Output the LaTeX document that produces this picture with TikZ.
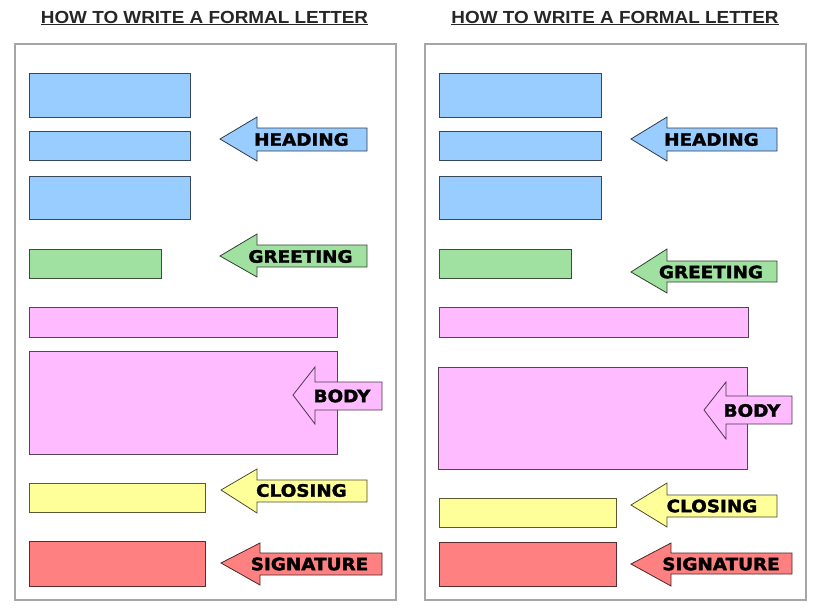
\documentclass[tikz,border=0pt]{standalone}
\usepackage{fontspec}
\newfontfamily\titlefont[FakeStretch=1.08]{Liberation Sans Bold}
\newfontfamily\lblfont[FakeStretch=1.08,FakeBold=2]{DejaVu Sans Bold}
\definecolor{headblue}{HTML}{99CCFF}
\definecolor{greetgreen}{HTML}{A0E0A0}
\definecolor{bodypink}{HTML}{FFBBFF}
\definecolor{closeyellow}{HTML}{FFFF99}
\definecolor{signred}{HTML}{FF8080}
\begin{document}
\begin{tikzpicture}[x=1pt,y=-1pt,
    part/.style={draw=#1!35!black, fill=#1, line width=0.8pt},
    pointer/.style={draw=#1!30!black, fill=#1, line width=0.8pt, line join=miter},
    lbl/.style={font=\lblfont\fontsize{17}{20}\selectfont, text=black, inner sep=0pt},
    title/.style={font=\titlefont\fontsize{17.5}{20}\selectfont, text=black!85, inner sep=0pt},
    sheet/.style={draw=gray!70, line width=1.2pt}]
    \useasboundingbox (0,0) rectangle (821,615);

    % left letter
    \node[title] (titleL) at (204.5,18) {\underline{HOW TO WRITE A FORMAL LETTER}};
    \draw[sheet] (15,44) rectangle (396,600);
    \draw[part=headblue] (29,73) rectangle (190,117);
    \draw[part=headblue] (29,131) rectangle (190,160);
    \draw[part=headblue] (29,176) rectangle (190,219);
    \draw[part=greetgreen] (29,249) rectangle (161,278);
    \draw[part=bodypink] (29,307) rectangle (337,337);
    \draw[part=bodypink] (29,351) rectangle (337,454);
    \draw[part=closeyellow] (29,483) rectangle (205,512);
    \draw[part=signred] (29,541) rectangle (205,586);

    \draw[pointer=headblue] (220,139) -- (257,117) -- (257,128) -- (367,128) -- (367,151) -- (257,151) -- (257,161) -- cycle;
    \node[lbl] (headL) at (301.5,139.5) {HEADING};
    \draw[pointer=greetgreen] (220,256) -- (257,234) -- (257,245) -- (367,245) -- (367,267) -- (257,267) -- (257,277) -- cycle;
    \node[lbl] (greetL) at (300.5,256.5) {GREETING};
    \draw[pointer=bodypink] (293,395) -- (315,367) -- (315,382) -- (382,382) -- (382,410) -- (315,410) -- (315,424) -- cycle;
    \node[lbl] (bodyL) at (342,396) {BODY};
    \draw[pointer=closeyellow] (221,490) -- (257,469) -- (257,480) -- (367,480) -- (367,502) -- (257,502) -- (257,513) -- cycle;
    \node[lbl] (closeL) at (301.5,490.5) {CLOSING};
    \draw[pointer=signred] (221,563) -- (260,543) -- (260,553) -- (382,553) -- (382,575) -- (260,575) -- (260,585) -- cycle;
    \node[lbl] (signL) at (309.5,564) {SIGNATURE};

    % right letter
    \node[title] (titleR) at (615,18) {\underline{HOW TO WRITE A FORMAL LETTER}};
    \draw[sheet] (425,44) rectangle (806,600);
    \draw[part=headblue] (439,73) rectangle (601,117);
    \draw[part=headblue] (439,131) rectangle (601,160);
    \draw[part=headblue] (439,176) rectangle (601,219);
    \draw[part=greetgreen] (439,249) rectangle (571,278);
    \draw[part=bodypink] (439,307) rectangle (748,337);
    \draw[part=bodypink] (438,367) rectangle (747,469);
    \draw[part=closeyellow] (439,498) rectangle (616,527);
    \draw[part=signred] (439,542) rectangle (616,586);

    \draw[pointer=headblue] (631,139) -- (667,117) -- (667,128) -- (777,128) -- (777,151) -- (667,151) -- (667,161) -- cycle;
    \node[lbl] (headR) at (711.5,139.5) {HEADING};
    \draw[pointer=greetgreen] (631,272) -- (667,249) -- (667,261) -- (777,261) -- (777,282) -- (667,282) -- (667,293) -- cycle;
    \node[lbl] (greetR) at (711,272) {GREETING};
    \draw[pointer=bodypink] (704,410) -- (726,382) -- (726,396) -- (792,396) -- (792,424) -- (726,424) -- (726,439) -- cycle;
    \node[lbl] (bodyR) at (752,410.5) {BODY};
    \draw[pointer=closeyellow] (631,505) -- (667,483) -- (667,495) -- (777,495) -- (777,517) -- (667,517) -- (667,527) -- cycle;
    \node[lbl] (closeR) at (712,506) {CLOSING};
    \draw[pointer=signred] (631,564) -- (671,543) -- (671,553) -- (792,553) -- (792,574) -- (671,574) -- (671,586) -- cycle;
    \node[lbl] (signR) at (721,564) {SIGNATURE};
\end{tikzpicture}
\end{document}
